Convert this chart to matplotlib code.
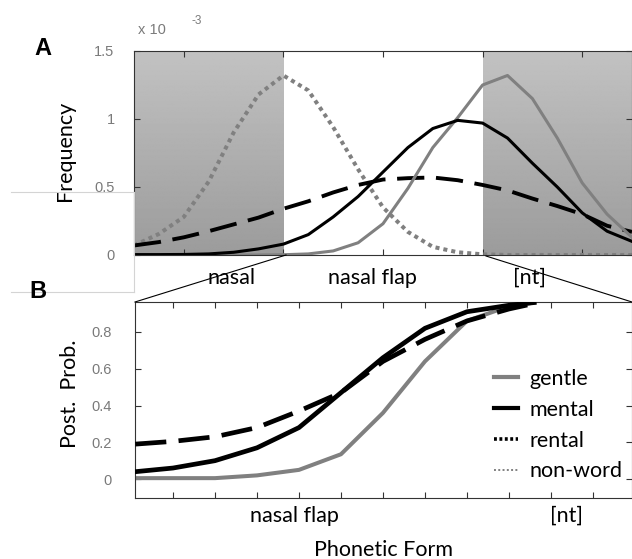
import numpy as np
import matplotlib
matplotlib.use("Agg")
import matplotlib.pyplot as plt
import matplotlib.transforms as mtrans
from matplotlib.lines import Line2D

# ---------------- data ----------------
# Panel A: frequency distributions (x 10^-3) along phonetic continuum
x_a = [0.5, 0.75, 1.0, 1.25, 1.5, 1.75, 2.0, 2.25, 2.5, 2.75, 3.0,
       3.25, 3.5, 3.75, 4.0, 4.25, 4.5, 4.75, 5.0, 5.25, 5.5]
gentle_a = [0, 0, 0, 0, 0, 0, 0.002, 0.008, 0.03, 0.09, 0.23,
            0.49, 0.79, 1.01, 1.25, 1.32, 1.15, 0.86, 0.53, 0.30, 0.13]
mental_a = [0.003, 0.003, 0.004, 0.008, 0.02, 0.045, 0.08, 0.15, 0.28, 0.43, 0.61,
            0.79, 0.93, 0.99, 0.97, 0.86, 0.675, 0.50, 0.31, 0.175, 0.10]
rental_a = [0.07, 0.095, 0.13, 0.175, 0.225, 0.275, 0.34, 0.395, 0.46, 0.515, 0.555,
            0.565, 0.57, 0.55, 0.515, 0.475, 0.415, 0.36, 0.30, 0.215, 0.17]
nonword_a = [0.07, 0.155, 0.28, 0.54, 0.90, 1.18, 1.32, 1.21, 0.94, 0.63, 0.35,
             0.17, 0.06, 0.02, 0.005, 0, 0, 0, 0, 0, 0]
a_xticks = [1, 2, 3, 4, 5]
a_yticks = [0, 0.5, 1, 1.5]
a_yticklabels = ["0", "0.5", "1", "1.5"]
a_shade = [(0.5, 2.0), (4.0, 5.5)]
a_labels = ["nasal", "nasal flap", "[nt]"]
a_label_x = [1.48, 2.89, 4.47]

# Panel B: posterior probabilities (zoom of region 2..4 of panel A)
x_b = [0.1, 1, 2, 3, 4, 5, 6, 7, 8, 9, 9.6]
gentle_b = [0.005, 0.005, 0.005, 0.02, 0.05, 0.135, 0.36, 0.64, 0.86, 0.94, 0.96]
mental_b = [0.04, 0.06, 0.10, 0.17, 0.28, 0.47, 0.66, 0.82, 0.91, 0.945, 0.96]
rental_b = [0.19, 0.205, 0.23, 0.28, 0.37, 0.47, 0.64, 0.76, 0.86, 0.925, 0.955]
b_xticks = [1, 2, 3, 4, 5, 6, 7, 8, 9, 10, 11]
b_yticks = [0, 0.2, 0.4, 0.6, 0.8]
b_yticklabels = ["0", "0.2", "0.4", "0.6", "0.8"]
b_labels = ["nasal flap", "[nt]"]
b_label_x = [3.9, 10.36]
legend_labels = ["gentle", "mental", "rental", "non-word"]

# ---------------- style ----------------
W, H = 632, 559
GRAY = "#808080"
TICKC = "#7a7a7a"
SPINE = "#333333"
LABFONT = "Lato"
TICKFONT = "Liberation Sans"
LABSIZE = 15.5

fig = plt.figure(figsize=(W / 100, H / 100), dpi=100)


def fx(px):
    return px / W


def fy(py):
    return 1 - py / H


def style_axes(ax, ypad):
    for s in ax.spines.values():
        s.set_color(SPINE)
        s.set_linewidth(0.8)
    ax.tick_params(direction="in", length=4, width=0.8, color=SPINE,
                   top=True, right=True, labelcolor=TICKC, labelsize=10.5)
    ax.yaxis.set_tick_params(pad=ypad)
    ax.set_xticklabels([])
    for t in ax.get_yticklabels():
        t.set_fontfamily(TICKFONT)


# ---------------- panel A ----------------
axA = fig.add_axes([fx(134), fy(255), fx(632) - fx(134), fy(51) - fy(255)])
axA.set_xlim(0.5, 5.5)
axA.set_ylim(0, 1.5)
grad = np.linspace(0.76, 0.61, 200).reshape(-1, 1)
for (x0, x1) in a_shade:
    axA.imshow(grad, extent=[x0, x1, 0, 1.5], aspect="auto", cmap="gray",
               vmin=0, vmax=1, origin="upper", zorder=0, interpolation="bilinear")
axA.plot(x_a, nonword_a, color=GRAY, lw=2.9, dashes=(1, 1), zorder=2)
axA.plot(x_a, rental_a, color="black", lw=2.8, dashes=(7, 3), zorder=3)
axA.plot(x_a, gentle_a, color=GRAY, lw=2.2, zorder=3)
axA.plot(x_a, mental_a, color="black", lw=2.2, zorder=4)
axA.set_xticks(a_xticks)
axA.set_yticks(a_yticks)
axA.set_yticklabels(a_yticklabels)
style_axes(axA, 14)
axA.set_ylabel("Frequency", fontfamily=LABFONT, fontsize=LABSIZE)
axA.yaxis.label.set_va("center")
axA.yaxis.set_label_coords((65 - 134) / 498, 0.51)
trA = mtrans.blended_transform_factory(axA.transData, fig.transFigure)
for lab, xv in zip(a_labels, a_label_x):
    axA.text(xv, fy(278), lab, transform=trA, ha="center", va="center",
             fontfamily=LABFONT, fontsize=LABSIZE, clip_on=False)

fig.text(fx(138), fy(30), "x 10", color=TICKC, fontfamily=TICKFONT, fontsize=10.5,
         ha="left", va="center")
fig.text(fx(192), fy(21), "-3", color=TICKC, fontfamily=TICKFONT, fontsize=8.5,
         ha="left", va="center")
fig.text(fx(43), fy(48.5), "A", fontfamily="Liberation Sans", fontweight="bold",
         fontsize=17, ha="center", va="center")

# ---------------- panel B ----------------
axB = fig.add_axes([fx(135), fy(498), fx(632) - fx(135), fy(302) - fy(498)])
axB.set_xlim(0.095, 11.93)
axB.set_ylim(-0.103, 0.963)
axB.plot(x_b, gentle_b, color=GRAY, lw=2.9, zorder=2)
axB.plot(x_b, rental_b, color="black", lw=3.4, dashes=(6.6, 2.6), zorder=3)
axB.plot(x_b, mental_b, color="black", lw=3.4, zorder=3)
axB.set_xticks(b_xticks)
axB.set_yticks(b_yticks)
axB.set_yticklabels(b_yticklabels)
style_axes(axB, 17)
axB.set_ylabel("Post.  Prob.", fontfamily=LABFONT, fontsize=LABSIZE)
axB.yaxis.label.set_va("center")
axB.yaxis.set_label_coords((70 - 135) / 497, (498 - 394) / 196)
trB = mtrans.blended_transform_factory(axB.transData, fig.transFigure)
for lab, xv in zip(b_labels, b_label_x):
    axB.text(xv, fy(516), lab, transform=trB, ha="center", va="center",
             fontfamily=LABFONT, fontsize=LABSIZE, clip_on=False)
fig.text(fx(384), fy(550), "Phonetic Form", fontfamily=LABFONT, fontsize=LABSIZE,
         ha="center", va="center")
fig.text(fx(38), fy(292), "B", fontfamily="Liberation Sans", fontweight="bold",
         fontsize=17, ha="center", va="center")

handles = [
    Line2D([], [], color=GRAY, lw=3.0),
    Line2D([], [], color="black", lw=3.0),
    Line2D([], [], color="black", lw=2.6, dashes=(0.8, 0.7)),
    Line2D([], [], color=GRAY, lw=1.4, dashes=(1, 1.2)),
]
leg = axB.legend(handles, legend_labels, loc="upper left",
                 bbox_to_anchor=(fx(494), fy(369)), bbox_transform=fig.transFigure,
                 frameon=False, prop={"family": LABFONT, "size": LABSIZE},
                 handlelength=1.1, handletextpad=0.55, labelspacing=0.5,
                 borderaxespad=0, borderpad=0)

# ---------------- connectors and light frame ----------------
conn = [((286, 255), (135, 302)), ((486, 256), (632, 302))]
for (p0, p1) in conn:
    fig.add_artist(Line2D([fx(p0[0]), fx(p1[0])], [fy(p0[1]), fy(p1[1])],
                          color="black", lw=0.8, transform=fig.transFigure))
frame_c = "#d4d4d4"
fig.add_artist(Line2D([fx(11), fx(134)], [fy(192), fy(192)], color=frame_c, lw=0.8))
fig.add_artist(Line2D([fx(133.5), fx(133.5)], [fy(192), fy(292)], color=frame_c, lw=0.8))
fig.add_artist(Line2D([fx(11), fx(133.5)], [fy(292), fy(292)], color=frame_c, lw=0.8))

fig.savefig("out.png", dpi=100)
